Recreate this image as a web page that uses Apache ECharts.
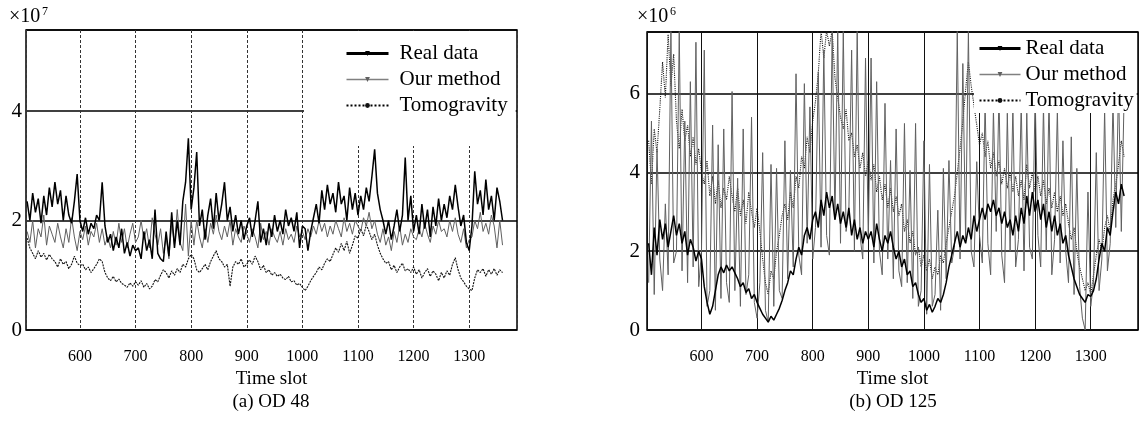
<!DOCTYPE html>
<html>
<head>
<meta charset="utf-8">
<script src="https://cdn.jsdelivr.net/npm/echarts@6/dist/echarts.min.js"></script>
<style>
html,body{margin:0;padding:0;background:#fff;}
#chart{width:1141px;height:422px;}
</style>
</head>
<body>
<div id="chart"></div>
<script>
// Time slots: first sample, step between samples
const SLOT_START = 505;
const SLOT_STEP = 5;

const xTickLabels = ['600','700','800','900','1000','1100','1200','1300'];
const leftYTicks = ['0','2','4'];
const rightYTicks = ['0','2','4','6'];
const seriesNames = ['Real data', 'Our method', 'Tomogravity'];
const panelTitles = ['(a) OD 48', '(b) OD 125'];
const axisTitle = 'Time slot';

// (a) OD 48, values in units of 1e7
const leftReal = [
2.35,2.0,2.5,2.15,2.4,1.95,2.45,2.1,2.6,2.25,
2.7,2.3,2.55,2.0,2.45,2.1,1.95,2.35,2.85,2.0,
1.8,2.05,1.75,1.95,1.85,2.1,2.0,2.7,1.9,1.6,
1.75,1.45,1.7,1.5,1.85,1.4,1.6,1.35,1.55,1.45,
1.5,1.3,1.8,1.45,1.65,1.3,2.2,1.4,1.3,1.25,
1.8,1.35,2.15,1.5,2.0,1.55,2.35,2.7,3.5,2.2,
2.6,3.25,1.9,2.2,1.65,2.1,2.4,1.85,2.5,2.0,
2.3,2.7,2.0,2.25,1.8,2.1,1.75,2.0,1.65,1.9,
2.05,1.7,2.0,2.35,1.6,1.85,1.55,1.95,1.7,2.1,
1.8,2.0,1.75,2.2,1.9,2.05,1.8,2.15,1.5,1.9,
1.85,1.45,1.8,2.05,2.3,1.95,2.55,2.2,2.65,2.3,
2.5,2.15,2.7,2.3,2.45,2.0,2.6,2.2,2.5,2.1,
2.45,2.2,2.6,2.35,2.8,3.3,2.5,2.2,2.0,1.75,
2.0,1.65,1.9,2.2,1.8,2.1,3.15,2.0,2.45,1.8,
2.1,1.75,2.3,1.85,2.2,1.7,2.25,1.9,2.4,2.0,
2.3,2.05,2.45,2.2,2.65,2.25,1.9,2.1,1.6,1.45,
1.9,2.9,2.3,2.55,2.1,2.75,2.2,2.45,2.0,2.6,
2.35,2.0
];
const leftOurs = [
1.8,1.6,2.0,1.5,1.85,1.7,2.1,1.55,1.9,1.75,
1.6,1.95,1.7,1.5,1.85,1.6,2.05,1.7,1.45,1.8,
1.65,1.9,1.55,1.8,1.7,1.95,1.6,1.85,1.55,1.7,
1.5,1.8,1.55,1.95,1.6,1.85,1.5,1.75,1.95,1.6,
1.7,2.0,1.65,1.85,1.5,2.05,1.75,1.55,1.85,1.4,
1.7,1.3,1.95,1.55,2.2,1.6,1.45,2.3,1.35,2.0,
1.55,2.0,1.7,1.5,1.85,1.6,1.95,1.75,2.1,1.8,
1.65,1.9,1.7,2.0,1.55,1.85,1.7,1.6,1.9,1.75,
1.6,1.85,1.7,1.5,1.95,1.65,1.8,1.55,1.85,1.7,
1.6,1.8,1.55,1.85,1.65,1.75,1.6,1.9,1.7,1.8,
1.65,1.85,1.7,1.9,1.75,2.0,1.8,1.95,1.7,1.9,
1.75,2.0,1.85,1.7,2.05,1.8,1.95,1.75,2.0,1.9,
1.8,2.05,1.9,2.15,1.85,2.0,1.75,1.6,1.85,1.55,
1.7,1.45,1.8,1.6,1.9,1.55,1.75,1.6,1.85,1.7,
1.65,1.85,1.7,1.95,1.75,1.6,1.9,1.75,2.0,1.8,
1.85,1.7,2.0,1.8,2.05,1.75,1.6,1.85,1.5,1.65,
1.7,2.0,1.85,2.15,1.8,1.95,1.75,2.1,1.9,1.5,
2.0,1.55
];
const leftTomo = [
1.68,1.5,1.4,1.3,1.45,1.33,1.4,1.28,1.38,1.3,
1.25,1.15,1.3,1.2,1.25,1.12,1.2,1.35,1.22,1.18,
1.2,1.1,1.15,1.05,1.12,1.2,1.3,1.25,1.05,0.95,
0.9,0.98,0.88,0.93,0.85,0.82,0.78,0.86,0.8,0.88,
0.82,0.9,0.78,0.85,0.75,0.8,0.92,0.88,1.0,1.1,
1.05,0.95,1.08,1.0,1.12,1.05,1.2,1.15,1.3,1.38,
1.3,1.1,1.05,1.12,1.2,1.1,1.25,1.35,1.45,1.3,
1.25,1.15,1.2,0.8,1.15,1.25,1.2,1.3,1.15,1.2,
1.28,1.2,1.35,1.25,1.1,1.18,1.05,1.1,1.0,1.05,
0.98,1.02,0.95,0.92,0.98,0.88,0.9,0.82,0.85,0.78,
0.72,0.8,0.9,0.98,1.05,1.15,1.1,1.22,1.3,1.25,
1.38,1.5,1.42,1.58,1.45,1.62,1.4,1.55,1.72,1.68,
1.85,1.72,1.92,1.8,1.65,1.75,1.55,1.4,1.3,1.22,
1.25,1.1,1.18,1.05,1.15,1.22,1.08,1.12,1.05,1.15,
1.02,1.1,0.95,1.05,1.12,0.98,1.08,1.02,0.9,1.05,
0.95,1.08,1.0,1.2,1.32,1.1,0.95,0.88,0.8,0.75,
0.72,0.95,1.1,1.05,1.12,0.98,1.1,1.02,1.12,1.0,
1.1,1.05
];

// (b) OD 125, values in units of 1e6
const rightReal = [
2.2,1.4,2.6,1.9,2.8,2.3,2.7,2.1,2.5,2.9,
2.4,2.7,2.2,2.5,1.9,2.3,2.1,1.75,2.0,1.8,
1.1,0.7,0.4,0.6,1.0,1.4,1.6,1.45,1.65,1.5,
1.6,1.45,1.3,1.1,1.2,0.95,1.05,0.8,0.9,0.7,
0.55,0.4,0.3,0.2,0.35,0.25,0.4,0.55,0.75,1.0,
1.2,1.5,1.4,1.8,2.1,1.9,2.4,2.6,2.3,2.8,
3.0,2.6,3.3,2.9,3.5,3.1,3.4,2.8,3.2,2.7,
3.0,2.6,3.1,2.4,2.8,2.3,2.6,2.2,2.5,2.3,
2.5,2.1,2.7,2.3,2.0,2.4,2.2,2.5,2.1,1.8,
2.0,1.6,1.8,1.4,1.5,1.1,1.2,0.9,0.7,0.8,
0.5,0.65,0.45,0.6,0.8,0.7,0.9,1.2,1.6,1.9,
2.2,2.5,2.1,2.4,2.2,2.6,2.3,2.9,2.5,2.8,
3.1,2.8,3.2,3.0,3.3,2.9,3.1,2.7,3.0,2.6,
2.8,2.4,2.9,2.5,3.1,2.7,3.4,2.9,3.5,3.0,
3.3,2.8,3.2,2.6,3.0,2.5,2.9,2.4,2.7,2.2,
2.4,1.9,1.6,1.3,1.1,0.9,0.8,0.7,0.9,0.85,
1.0,1.3,1.8,2.2,2.0,2.6,2.4,3.0,3.5,3.2,
3.7,3.4
];
const rightOurs = [
1.2,5.3,0.9,4.6,1.8,1.0,3.2,1.4,7.6,1.7,
2.0,7.6,1.5,5.3,1.2,6.3,1.6,7.3,1.1,2.0,
7.1,0.6,1.0,5.2,0.5,4.7,0.8,5.1,1.2,0.7,
6.05,1.0,3.85,0.6,5.1,0.9,1.4,5.4,0.7,0.3,
1.2,4.5,0.5,0.2,4.2,0.6,4.1,1.0,0.8,4.8,
1.3,4.05,1.6,6.5,1.9,1.4,6.25,2.2,5.66,1.8,
2.6,6.55,2.1,7.1,2.4,1.9,7.6,2.8,7.6,2.2,
7.6,2.5,3.0,7.1,2.0,7.6,2.4,1.8,6.9,2.3,
6.9,1.7,6.3,2.0,1.4,5.75,1.8,4.3,1.3,5.1,
1.5,1.1,5.24,1.2,4.05,0.8,5.24,0.6,1.0,4.8,
0.4,4.2,0.6,0.9,3.04,0.5,4.1,1.3,4.3,1.7,
2.1,7.6,1.8,6.76,2.3,7.6,2.0,1.6,4.27,2.4,
1.7,5.8,2.2,1.4,5.6,2.5,6.0,1.9,1.2,5.5,
2.0,5.7,1.6,2.3,5.8,1.5,5.5,2.1,1.8,6.0,
2.4,1.6,5.7,2.0,5.9,1.4,2.3,5.6,1.7,4.8,
2.0,1.2,4.9,0.9,4.1,1.1,0.3,0.0,3.5,0.6,
1.2,4.5,1.0,1.8,5.6,1.5,2.2,5.8,2.6,6.2,
2.5,5.9
];
const rightTomo = [
4.8,3.7,5.1,4.5,5.6,6.8,5.9,7.5,6.2,7.0,
5.3,4.6,5.6,4.8,5.2,4.4,4.9,4.2,4.6,4.0,
3.7,4.3,3.4,3.9,3.2,3.8,3.1,3.6,3.3,3.9,
3.4,3.0,3.6,2.9,3.3,2.7,3.5,3.0,2.6,3.1,
2.5,1.8,1.2,0.9,1.5,1.3,2.0,2.4,2.9,3.2,
2.8,3.5,3.1,3.9,3.6,4.4,4.1,4.9,4.5,5.3,
5.8,6.5,7.6,6.9,7.6,7.2,7.6,6.4,5.9,5.4,
5.1,5.6,4.8,5.0,4.4,4.7,4.1,4.5,3.9,4.3,
3.8,4.2,3.5,3.9,3.3,3.7,3.1,3.6,3.0,3.4,
2.9,3.2,2.5,2.8,2.2,2.5,1.9,2.1,1.6,1.9,
1.5,1.8,1.3,1.6,1.4,1.9,1.7,2.2,2.6,3.0,
3.4,4.0,4.6,5.3,6.1,6.8,6.2,5.7,5.2,4.7,
5.0,4.4,4.8,4.1,4.5,3.9,4.3,3.7,4.1,3.6,
4.0,3.5,3.9,3.4,3.8,3.3,4.2,3.6,4.0,3.5,
3.9,3.4,3.8,3.2,3.6,3.1,3.5,3.0,3.4,2.9,
3.2,2.7,2.3,2.6,2.0,1.6,1.3,1.0,1.2,0.9,
1.4,1.9,2.3,2.0,2.6,2.9,2.5,3.3,3.7,4.2,
4.8,4.4
];

const FONT = '"Liberation Serif", "Times New Roman", serif';

function pairs(vals) {
  return vals.map((v, i) => [SLOT_START + i * SLOT_STEP, v]);
}

const chart = echarts.init(document.getElementById('chart'), null, {renderer: 'canvas'});

function xAxisFor(gridIndex, min, max, dashed) {
  return {
    type: 'value', gridIndex: gridIndex, min: min, max: max, splitNumber: 9,
    name: axisTitle, nameLocation: 'middle', nameGap: 40,
    nameTextStyle: {fontFamily: FONT, fontSize: 19, color: '#000'},
    axisLine: {show: false},
    axisTick: {show: false},
    axisLabel: {
      margin: 19, fontFamily: FONT, fontSize: 16, color: '#000',
      showMinLabel: true, showMaxLabel: true,
      formatter: function (v) {
        const s = String(Math.round(v));
        return xTickLabels.indexOf(s) >= 0 ? s : '';
      }
    },
    splitLine: {show: true, lineStyle: dashed
      ? {color: '#333', width: 1, type: [3, 2]}
      : {color: '#111', width: 1, type: 'solid'}}
  };
}

function yAxisFor(gridIndex, max, labels, margin) {
  return {
    type: 'value', gridIndex: gridIndex, min: 0, max: max, interval: 2,
    axisLine: {show: false},
    axisTick: {show: false},
    axisLabel: {
      margin: margin, fontFamily: FONT, fontSize: 21, color: '#000',
      showMaxLabel: false,
      formatter: function (v) {
        const s = String(Math.round(v));
        return labels.indexOf(s) >= 0 && Math.abs(v - Math.round(v)) < 1e-9 ? s : '';
      }
    },
    splitLine: {show: true, lineStyle: {color: '#000', width: 1.6}}
  };
}

const styleReal = {color: '#000', width: 1.5, type: 'solid'};
const styleOurs = {color: '#606060', width: 1, type: 'solid'};
const styleTomoL = {color: '#111', width: 1.1, type: [2, 1]};
const styleTomoR = {color: '#1a1a1a', width: 1.1, type: 'dotted'};

function lineSeries(name, vals, gi, style, z, symbol) {
  return {
    name: name, type: 'line', xAxisIndex: gi, yAxisIndex: gi,
    data: pairs(vals), showSymbol: false, symbol: symbol, symbolSize: 5,
    symbolRotate: symbol === 'triangle' ? 180 : 0,
    lineStyle: style, itemStyle: {color: style.color},
    z: z, silent: true, animation: false, clip: true
  };
}

const legendData = [
  {name: seriesNames[0], lineStyle: {width: 3, color: '#000'}},
  {name: seriesNames[1], lineStyle: {width: 1.5, color: '#808080'}},
  {name: seriesNames[2], lineStyle: {width: 2, color: '#000', type: 'dotted'}}
];

const legendCommon = {
  orient: 'vertical', itemWidth: 42, itemHeight: 6, itemGap: 5,
  backgroundColor: '#fff', borderWidth: 0,
  selectedMode: false,
  data: legendData,
  textStyle: {fontFamily: FONT, fontSize: 21, color: '#000'}
};

const option = {
  animation: false,
  backgroundColor: '#fff',
  grid: [
    {left: 26, top: 30, width: 491, height: 300, show: true, borderColor: '#000', borderWidth: 1.5, backgroundColor: 'transparent'},
    {left: 647, top: 32, width: 491, height: 298, show: true, borderColor: '#000', borderWidth: 1.5, backgroundColor: 'transparent'}
  ],
  xAxis: [xAxisFor(0, 503, 1386, true), xAxisFor(1, 502, 1385, false)],
  yAxis: [yAxisFor(0, 5.48, leftYTicks, 4), yAxisFor(1, 7.56, rightYTicks, 7)],
  legend: [
    Object.assign({}, legendCommon, {left: 304, top: 31, padding: [12, 8, 30, 41],
      textStyle: {fontFamily: FONT, fontSize: 21, color: '#000', padding: [0, 0, 0, 6]}}),
    Object.assign({}, legendCommon, {left: 974, top: 33, padding: [5, 3, 2, 4], itemWidth: 41})
  ],
  series: [
    lineSeries(seriesNames[2], leftTomo, 0, styleTomoL, 2, 'circle'),
    lineSeries(seriesNames[1], leftOurs, 0, styleOurs, 2, 'triangle'),
    lineSeries(seriesNames[0], leftReal, 0, styleReal, 3, 'triangle'),
    lineSeries(seriesNames[2], rightTomo, 1, styleTomoR, 2, 'circle'),
    lineSeries(seriesNames[1], rightOurs, 1, styleOurs, 2, 'triangle'),
    lineSeries(seriesNames[0], rightReal, 1, styleReal, 3, 'triangle')
  ],
  graphic: [
    {type: 'text', left: 9, top: 7, style: {text: '×10', font: '20px ' + FONT, fill: '#000'}},
    {type: 'text', left: 42, top: 6, style: {text: '7', font: '12px ' + FONT, fill: '#000'}},
    {type: 'text', left: 637, top: 7, style: {text: '×10', font: '20px ' + FONT, fill: '#000'}},
    {type: 'text', left: 670, top: 6, style: {text: '6', font: '12px ' + FONT, fill: '#000'}},
    {type: 'text', x: 271, y: 402, style: {text: panelTitles[0], font: '19px ' + FONT, fill: '#000', textAlign: 'center', textVerticalAlign: 'middle'}},
    {type: 'text', x: 893, y: 402, style: {text: panelTitles[1], font: '19px ' + FONT, fill: '#000', textAlign: 'center', textVerticalAlign: 'middle'}}
  ]
};
chart.setOption(option);
</script>
</body>
</html>
